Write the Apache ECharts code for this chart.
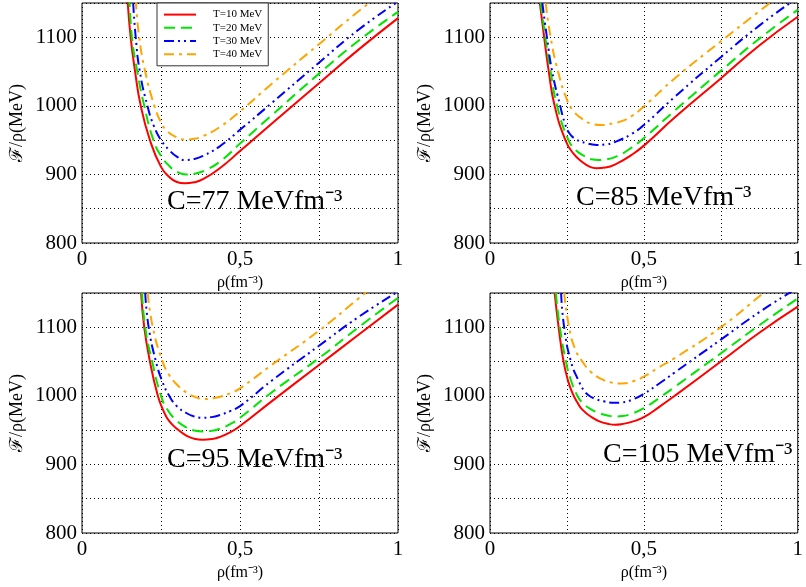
<!DOCTYPE html>
<html><head><meta charset="utf-8">
<script src="https://cdn.jsdelivr.net/npm/echarts@6/dist/echarts.min.js"></script>
<style>html,body{margin:0;padding:0;background:#fff}#c{width:806px;height:587px}</style>
</head><body><div id="c"></div>
<script>
// ---- data (rho in fm^-3, F/rho in MeV) ----
const seriesNames = ['T=10 MeV','T=20 MeV','T=30 MeV','T=40 MeV'];
const panelLabels = ['C=77 MeVfm⁻³','C=85 MeVfm⁻³','C=95 MeVfm⁻³','C=105 MeVfm⁻³'];
const xTickLabels = {0:'0',0.5:'0,5',1:'1'};
const yTickLabels = [800,900,1000,1100];

// C = 77
const C77_T10 = [[0.144,1155],[0.154,1100],[0.168,1050],[0.186,1000],[0.215,950],[0.25,911],[0.277,896],[0.3,889],[0.325,887],[0.355,888.5],[0.383,893],[0.436,909],[0.5,934],[0.6,974],[0.75,1033],[0.875,1082],[1.0,1128]];
const C77_T20 = [[0.15,1160],[0.158,1100],[0.175,1050],[0.197,1000],[0.226,950],[0.25,927],[0.277,912],[0.3,904],[0.33,900],[0.36,901.5],[0.39,906],[0.44,920],[0.5,945],[0.6,986],[0.75,1047],[0.875,1095],[1.0,1137]];
const C77_T30 = [[0.162,1150],[0.17,1100],[0.183,1050],[0.207,1000],[0.228,970],[0.25,950],[0.277,935],[0.3,926],[0.325,921],[0.355,922.5],[0.383,927],[0.436,941],[0.5,965],[0.6,1004],[0.75,1063],[0.875,1111],[1.0,1152]];
const C77_T40 = [[0.17,1155],[0.181,1100],[0.2,1050],[0.229,1000],[0.25,976],[0.27,963],[0.3,954],[0.325,951],[0.355,952],[0.383,956],[0.436,969],[0.5,992],[0.6,1032],[0.75,1090],[0.875,1138],[0.91,1150]];
// C = 85
const C85_T10 = [[0.162,1150],[0.176,1100],[0.191,1050],[0.21,1000],[0.245,950],[0.27,931],[0.3,918],[0.325,911],[0.346,909],[0.375,910],[0.415,916.5],[0.46,928.5],[0.5,942],[0.6,983],[0.75,1040],[0.875,1088],[1.0,1130]];
const C85_T20 = [[0.165,1150],[0.18,1100],[0.197,1050],[0.218,1000],[0.255,950],[0.28,935],[0.31,926],[0.33,922],[0.351,921],[0.38,922],[0.415,927],[0.46,939],[0.5,953],[0.6,993],[0.75,1051],[0.875,1098],[1.0,1140]];
const C85_T30 = [[0.17,1150],[0.185,1100],[0.202,1050],[0.228,1000],[0.243,975],[0.258,960],[0.28,951],[0.31,946],[0.346,943],[0.38,944],[0.415,949],[0.46,959],[0.5,972],[0.6,1013],[0.75,1071],[0.875,1117],[0.975,1150]];
const C85_T40 = [[0.181,1150],[0.197,1100],[0.221,1050],[0.25,1009],[0.27,993],[0.3,981],[0.33,974],[0.362,972],[0.4,974.5],[0.43,978],[0.46,985],[0.5,999],[0.6,1040],[0.75,1094],[0.875,1138],[0.91,1150]];
// C = 95
const C95_T10 = [[0.187,1150],[0.197,1100],[0.215,1050],[0.24,1000],[0.258,978],[0.276,963],[0.303,951],[0.33,942],[0.355,937.5],[0.382,936],[0.41,937],[0.436,940],[0.47,947],[0.5,956],[0.6,992],[0.75,1045],[0.875,1089],[1.0,1133]];
const C95_T20 = [[0.19,1150],[0.2,1100],[0.222,1050],[0.25,1000],[0.27,980],[0.297,965],[0.33,954],[0.355,949.5],[0.382,948],[0.41,949],[0.436,952],[0.47,959],[0.5,968],[0.6,1005],[0.75,1055],[0.875,1100],[1.0,1143]];
const C95_T30 = [[0.2,1150],[0.211,1100],[0.234,1050],[0.255,1020],[0.276,1000],[0.3,985],[0.33,975],[0.355,970],[0.382,968],[0.41,969],[0.436,972],[0.47,978],[0.5,985],[0.6,1022],[0.75,1073],[0.875,1115],[1.0,1152]];
const C95_T40 = [[0.208,1150],[0.224,1100],[0.255,1050],[0.275,1031],[0.297,1018],[0.33,1005],[0.36,998],[0.387,995.5],[0.415,996.5],[0.44,999],[0.47,1004],[0.5,1011],[0.6,1045],[0.75,1095],[0.875,1142],[0.9,1151]];
// C = 105
const C105_T10 = [[0.21,1150],[0.223,1100],[0.239,1050],[0.255,1020],[0.268,1004],[0.283,991],[0.3,980],[0.33,969],[0.36,962],[0.385,959],[0.406,958],[0.43,959],[0.46,962],[0.5,969],[0.55,984],[0.6,1000],[0.75,1050],[0.875,1092],[1.0,1130]];
const C105_T20 = [[0.214,1150],[0.227,1100],[0.247,1050],[0.262,1024],[0.284,1000],[0.3,990],[0.33,980],[0.36,974],[0.385,971],[0.406,970],[0.43,970.5],[0.46,974],[0.5,982],[0.55,997],[0.6,1013],[0.75,1062],[0.875,1103],[1.0,1142]];
const C105_T30 = [[0.231,1150],[0.241,1100],[0.263,1050],[0.29,1020],[0.305,1008],[0.32,1001],[0.34,996],[0.37,992],[0.406,990],[0.43,990.5],[0.46,994],[0.5,1003],[0.55,1018],[0.6,1034],[0.75,1082],[0.875,1122],[0.98,1152]];
const C105_T40 = [[0.241,1150],[0.257,1100],[0.277,1068],[0.3,1050],[0.33,1034],[0.36,1025],[0.39,1020],[0.417,1018],[0.44,1018.5],[0.47,1022],[0.5,1028],[0.55,1042],[0.6,1055],[0.75,1100],[0.883,1148],[0.9,1154]];

const panels = [
  [C77_T10, C77_T20, C77_T30, C77_T40],
  [C85_T10, C85_T20, C85_T30, C85_T40],
  [C95_T10, C95_T20, C95_T30, C95_T40],
  [C105_T10, C105_T20, C105_T30, C105_T40]
];

// ---- styles ----
const colors = ['#ff0000','#00e600','#0000ff','#ffa500'];
const dashes = ['solid',[11,6],[10,4,2,4,2,4],[10,5,3,5]];
const gridPos = [
  {left:82, top:3, width:316, height:240},
  {left:490, top:3, width:313, height:240},
  {left:82, top:293, width:316, height:240},
  {left:490, top:293, width:313, height:240}
];
const labelPos = [[167,204],[576,200],[167,462],[603,457]];
const serif = 'Liberation Serif, Times New Roman, serif';

const grids=[], xAxes=[], yAxes=[], series=[], graphics=[];
gridPos.forEach((g,i)=>{
  grids.push(Object.assign({show:true, borderColor:'#000', borderWidth:1, backgroundColor:'transparent'}, g));
  xAxes.push({type:'value', gridIndex:i, min:0, max:1, interval:0.25,
    axisLine:{show:false}, axisTick:{show:false},
    axisLabel:{color:'#000', fontFamily:serif, fontSize:21, margin:6,
      formatter:v=> (xTickLabels[v]!==undefined? xTickLabels[v] : '')},
    splitLine:{show:true, lineStyle:{color:'#000', type:[1,3], width:1}},
    name:'ρ(fm⁻³)', nameLocation:'middle', nameGap:32,
    nameTextStyle:{color:'#000', fontFamily:serif, fontSize:16}});
  yAxes.push({type:'value', gridIndex:i, min:800, max:1150, interval:50,
    axisLine:{show:false}, axisTick:{show:false},
    axisLabel:{color:'#000', fontFamily:serif, fontSize:21, margin:5,
      formatter:v=> (yTickLabels.indexOf(v)>=0? String(v):'')},
    splitLine:{show:true, lineStyle:{color:'#000', type:[1,3], width:1}},
    name:'ℱ/ρ(MeV)', nameLocation:'middle', nameGap:56, nameRotate:90,
    nameTextStyle:{color:'#000', fontFamily:serif, fontSize:18}});
  panels[i].forEach((d,k)=>{
    series.push({type:'line', name:seriesNames[k], xAxisIndex:i, yAxisIndex:i,
      data:d, symbol:'none', showSymbol:false, smooth:0.5, clip:true, z:3+k,
      lineStyle:{color:colors[k], width:2, type:dashes[k]},
      itemStyle:{color:colors[k]}});
  });
  graphics.push({type:'text', left:labelPos[i][0], top:labelPos[i][1]-16, z:100,
    style:{text:panelLabels[i], font:'28px '+serif, fill:'#000'}});
});

const chart = echarts.init(document.getElementById('c'), null, {renderer:'canvas'});
chart.setOption({
  animation:false,
  backgroundColor:'#fff',
  grid:grids, xAxis:xAxes, yAxis:yAxes, series:series,
  legend:{show:true, orient:'vertical', left:157, top:3, data:seriesNames,
    backgroundColor:'#fff', borderColor:'#333', borderWidth:1, padding:[6,6,6,6],
    itemWidth:32, itemHeight:14, itemGap:2,
    itemStyle:{opacity:0},
    lineStyle:{width:2},
    textStyle:{color:'#000', fontFamily:serif, fontSize:11, padding:[0,0,0,12]}},
  graphic:graphics
});
</script></body></html>
